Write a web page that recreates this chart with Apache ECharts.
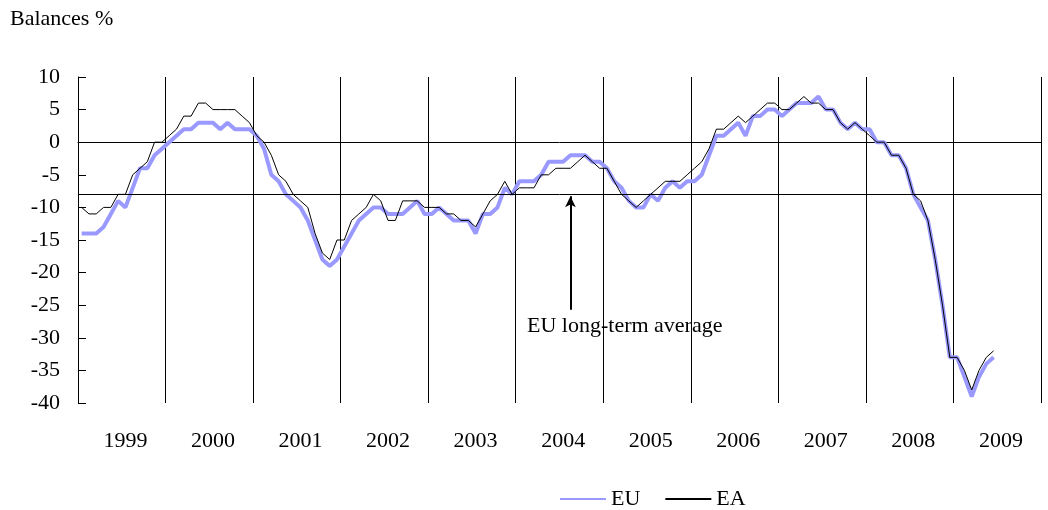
<!DOCTYPE html>
<html>
<head>
<meta charset="utf-8">
<script src="https://cdn.jsdelivr.net/npm/echarts@6/dist/echarts.min.js"></script>
<style>
  html, body { margin: 0; padding: 0; background: #fff; }
  #chart { width: 1048px; height: 510px; }
</style>
</head>
<body>
<div id="chart"></div>
<script>
// year labels and monthly categories (Jan 1999 - Dec 2009)
var years = ['1999', '2000', '2001', '2002', '2003', '2004', '2005', '2006', '2007', '2008', '2009'];
var months = [];
for (var y = 0; y < years.length; y++) {
    for (var m = 1; m <= 12; m++) {
        months.push(years[y] + '-' + (m < 10 ? '0' + m : m));
    }
}

// balances %, monthly, Jan 1999 - Jun 2009
var euData = [
    -14, -14, -14, -13, -11, -9, -10, -7, -4, -4, -2, -1,
    0, 1, 2, 2, 3, 3, 3, 2, 3, 2, 2, 2,
    1, -1, -5, -6, -8, -9, -10, -12, -15, -18, -19, -18,
    -16, -14, -12, -11, -10, -10, -11, -11, -11, -10, -9, -11,
    -11, -10, -11, -12, -12, -12, -14, -11, -11, -10, -7, -8,
    -6, -6, -6, -5, -3, -3, -3, -2, -2, -2, -3, -3,
    -4, -6, -7, -9, -10, -10, -8, -9, -7, -6, -7, -6,
    -6, -5, -2, 1, 1, 2, 3, 1, 4, 4, 5, 5,
    4, 5, 6, 6, 6, 7, 5, 5, 3, 2, 3, 2,
    2, 0, 0, -2, -2, -4, -8, -10, -12, -18, -25, -33,
    -33, -36, -39, -36, -34, -33
];
var eaData = [
    -10, -11, -11, -10, -10, -8, -8, -5, -4, -3, 0, 0,
    1, 2, 4, 4, 6, 6, 5, 5, 5, 5, 4, 3,
    1, 0, -2, -5, -6, -8, -9, -10, -14, -17, -18, -15,
    -15, -12, -11, -10, -8, -9, -12, -12, -9, -9, -9, -10,
    -10, -10, -11, -11, -12, -12, -13, -11, -9, -8, -6, -8,
    -7, -7, -7, -5, -5, -4, -4, -4, -3, -2, -3, -4,
    -4, -6, -8, -9, -10, -9, -8, -7, -6, -6, -6, -5,
    -4, -3, -1, 2, 2, 3, 4, 3, 4, 5, 6, 6,
    5, 5, 6, 7, 6, 6, 5, 5, 3, 2, 3, 2,
    1, 0, 0, -2, -2, -4, -8, -9, -12, -18, -25, -33,
    -33, -35, -38, -35, -33, -32
];

var longTermAvg = -8;
var arrowMonth = '2004-08';
var arrowBottom = -25.7;

var font = 'Liberation Serif';

var myChart = echarts.init(document.getElementById('chart'));

var option = {
    animation: false,
    textStyle: { fontFamily: font, color: '#000' },
    grid: { left: 78, right: 7, top: 77, bottom: 107 },
    legend: {
        left: 554,
        top: 483,
        itemWidth: 46,
        itemHeight: 14,
        itemGap: 24,
        itemStyle: { opacity: 0 },
        textStyle: { fontFamily: font, fontSize: 22, color: '#000' },
        data: ['EU', 'EA']
    },
    graphic: [
        {
            type: 'text', left: 10, top: 8,
            style: { text: 'Balances %', font: '22px "Liberation Serif"', fill: '#000' }
        },
        {
            type: 'text', left: 527, top: 315,
            style: { text: 'EU long-term average', font: '22px "Liberation Serif"', fill: '#000' }
        }
    ],
    xAxis: [
        {
            type: 'category',
            data: months,
            boundaryGap: true,
            axisLine: { lineStyle: { color: '#000', width: 1 } },
            axisTick: { show: false },
            splitLine: { show: false },
            axisLabel: {
                interval: function (index) { return index % 12 === 6; },
                formatter: function (v) { return v.slice(0, 4); },
                margin: 27,
                fontSize: 22,
                fontFamily: font,
                color: '#000'
            }
        },
        {
            type: 'category',
            data: years,
            position: 'bottom',
            boundaryGap: true,
            axisLine: { show: false },
            axisTick: { show: false },
            axisLabel: { show: false },
            splitLine: { show: true, interval: 0, lineStyle: { color: '#000', width: 1 } }
        }
    ],
    yAxis: {
        type: 'value',
        min: -40,
        max: 10,
        interval: 5,
        axisLine: { show: true, lineStyle: { color: '#000', width: 1 } },
        axisTick: { show: true, inside: true, length: 8, lineStyle: { color: '#000' } },
        splitLine: { show: false },
        axisLabel: { margin: 18, fontSize: 22, fontFamily: font, color: '#000' }
    },
    series: [
        {
            name: 'EU',
            type: 'line',
            data: euData,
            symbol: 'none',
            color: '#9999ff',
            lineStyle: { color: '#9999ff', width: 4 }
        },
        {
            name: 'EA',
            type: 'line',
            data: eaData,
            symbol: 'none',
            color: '#000',
            lineStyle: { color: '#000', width: 1 },
            markLine: {
                silent: true,
                symbol: ['none', 'none'],
                label: { show: false },
                data: [
                    {
                        yAxis: longTermAvg,
                        lineStyle: { color: '#000', width: 1, type: 'solid' }
                    },
                    [
                        { coord: [arrowMonth, longTermAvg - 0.3], symbol: 'arrow', symbolSize: [8, 11] },
                        { coord: [arrowMonth, arrowBottom], symbol: 'none', lineStyle: { color: '#000', width: 2, type: 'solid' } }
                    ]
                ],
                lineStyle: { color: '#000', width: 2, type: 'solid' }
            }
        }
    ]
};

myChart.setOption(option);
</script>
</body>
</html>
